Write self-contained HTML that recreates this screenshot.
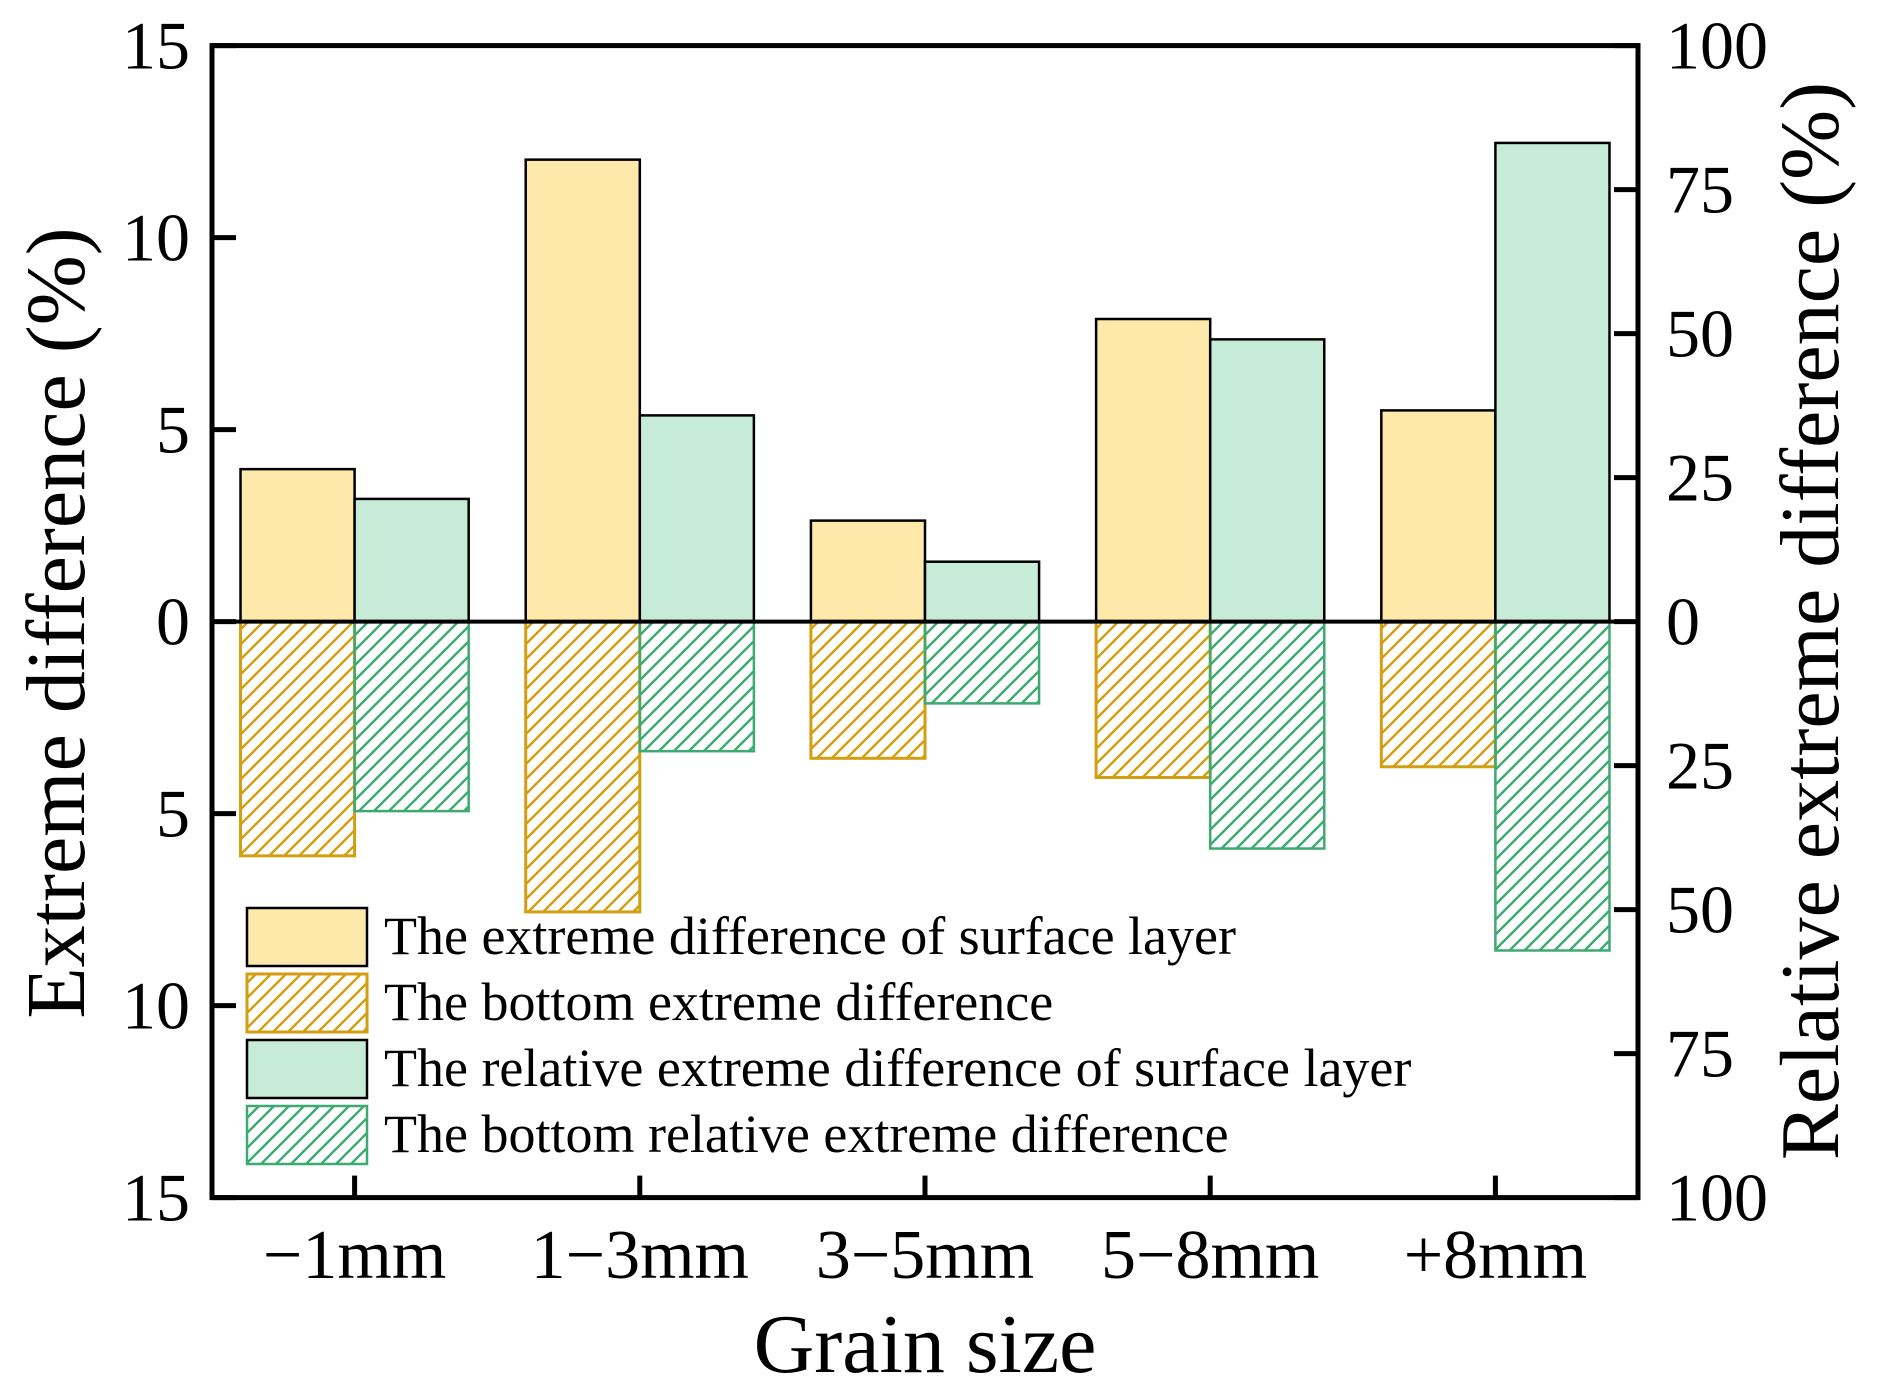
<!DOCTYPE html>
<html><head><meta charset="utf-8"><style>
html,body{margin:0;padding:0;background:#fff}
svg{display:block}
text{font-family:"Liberation Serif","Times New Roman",serif}
</style></head><body>
<svg id="chart" width="1881" height="1393" viewBox="0 0 1881 1393">
<defs>
<pattern id="hatchO" patternUnits="userSpaceOnUse" width="15" height="15"><path d="M-4,4 l8,-8 M0,15 l15,-15 M11,19 l8,-8" stroke="#D39E12" stroke-width="2.4"/></pattern>
<pattern id="hatchG" patternUnits="userSpaceOnUse" width="15" height="15"><path d="M-4,4 l8,-8 M0,15 l15,-15 M11,19 l8,-8" stroke="#3DAA72" stroke-width="2.4"/></pattern>
</defs>
<g id="bars"></g>
<g id="axes"></g>
<g>
<text x="925" y="1372" font-size="84" text-anchor="middle">Grain size</text>
<text transform="translate(84,623) rotate(-90)" font-size="84" text-anchor="middle">Extreme difference (%)</text>
<text transform="translate(1838,621) rotate(-90)" font-size="84" text-anchor="middle">Relative extreme difference (%)</text>
</g>
<g font-size="54">
<rect x="247" y="908" width="120" height="58" fill="#FFE9AA" stroke="#000" stroke-width="2.5"/>
<text x="384" y="954">The extreme difference of surface layer</text>
<rect x="247" y="974" width="120" height="58" fill="url(#hatchO)" stroke="#D39E12" stroke-width="3"/>
<text x="384" y="1020">The bottom extreme difference</text>
<rect x="247" y="1040" width="120" height="58" fill="#C6ECD7" stroke="#000" stroke-width="2.5"/>
<text x="384" y="1086">The relative extreme difference of surface layer</text>
<rect x="247" y="1106" width="120" height="58" fill="url(#hatchG)" stroke="#3DAA72" stroke-width="2.5"/>
<text x="384" y="1152">The bottom relative extreme difference</text>
</g>
</svg>
<script>
const categories = ["\u22121mm","1\u22123mm","3\u22125mm","5\u22128mm","+8mm"];
const surfaceExtreme = [3.97, 12.03, 2.63, 7.88, 5.5];
const bottomExtreme = [6.1, 7.56, 3.56, 4.06, 3.78];
const surfaceRelative = [21.3, 35.8, 10.4, 49.0, 83.1];
const bottomRelative = [32.9, 22.5, 14.2, 39.4, 57.1];
const leftTicks = [15,10,5,0,-5,-10,-15];
const rightTicks = [100,75,50,25,0,-25,-50,-75,-100];

const NS = "http://www.w3.org/2000/svg";
const L = 212, R = 1638, T = 45.6, B = 1197.6;
const zeroY = (T + B) / 2;
const band = (R - L) / categories.length;
function yL(v){ return zeroY - v * (zeroY - T) / 15; }
function yR(v){ return zeroY - v * (zeroY - T) / 100; }
function xC(i){ return L + band * (i + 0.5); }
function mk(tag, attrs, parent){ const e = document.createElementNS(NS, tag); for (const k in attrs) e.setAttribute(k, attrs[k]); parent.appendChild(e); return e; }
const bars = document.getElementById("bars");
const axes = document.getElementById("axes");
const bw = band * 0.4;

function bar(x, y0, y1, fill, stroke, sw, name){
  const r = mk("rect", {x: x, y: Math.min(y0,y1), width: bw, height: Math.abs(y1-y0), fill: fill, stroke: stroke, "stroke-width": sw}, bars);
  
  
}
categories.forEach((c, i) => {
  const cx = xC(i);
  bar(cx - bw, zeroY, yL(surfaceExtreme[i]), "#FFE9AA", "#000", 2.5, "bar-surface-extreme");
  bar(cx, zeroY, yR(surfaceRelative[i]), "#C6ECD7", "#000", 2.5, "bar-surface-relative");
  bar(cx - bw, zeroY, yL(-bottomExtreme[i]), "url(#hatchO)", "#D39E12", 3, "bar-bottom-extreme");
  bar(cx, zeroY, yR(-bottomRelative[i]), "url(#hatchG)", "#3DAA72", 2.5, "bar-bottom-relative");
  const t = mk("text", {x: cx, y: 1278, "font-size": 70, "text-anchor": "middle"}, axes);
  t.textContent = c;
  
  
  mk("line", {x1: cx, x2: cx, y1: B, y2: B - 22, stroke: "#000", "stroke-width": 5}, axes);
});
mk("line", {x1: L, x2: R, y1: zeroY, y2: zeroY, stroke: "#000", "stroke-width": 4}, axes);
const frame = mk("rect", {x: L, y: T, width: R - L, height: B - T, fill: "none", stroke: "#000", "stroke-width": 5}, axes);


leftTicks.forEach(v => {
  const y = yL(v);
  mk("line", {x1: L, x2: L + 24, y1: y, y2: y, stroke: "#000", "stroke-width": 5}, axes);
  const t = mk("text", {x: L - 22, y: y + 23, "font-size": 68, "text-anchor": "end"}, axes);
  t.textContent = Math.abs(v);
  
  
});
rightTicks.forEach(v => {
  const y = yR(v);
  mk("line", {x1: R, x2: R - 24, y1: y, y2: y, stroke: "#000", "stroke-width": 5}, axes);
  const t = mk("text", {x: R + 28, y: y + 23, "font-size": 68, "text-anchor": "start"}, axes);
  t.textContent = Math.abs(v);
  
  
});
</script>
</body></html>
